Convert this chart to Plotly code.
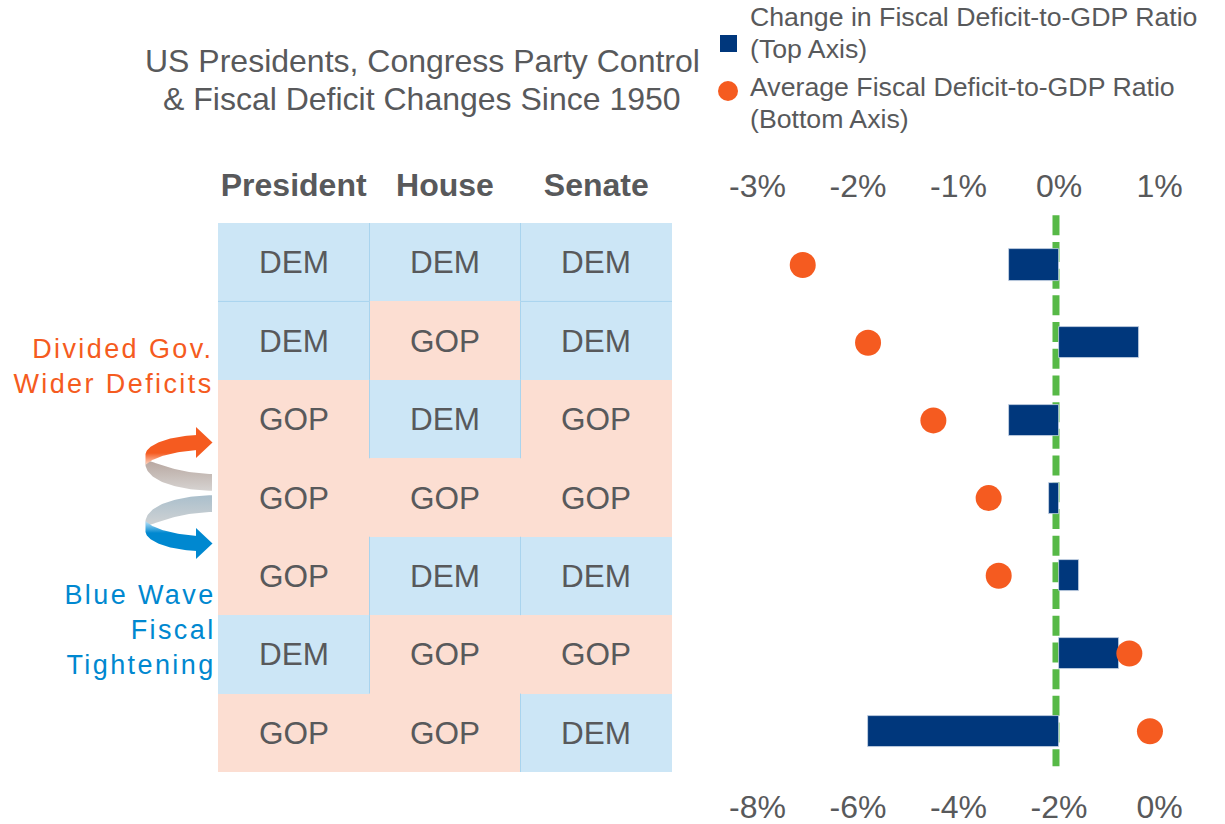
import numpy as np
import plotly.graph_objects as go

W, H = 1225, 824
FONT = "Liberation Sans, Arial, sans-serif"
GREY = "#58595B"
ORANGE = "#F55B20"
BLUE_TXT = "#0088D0"
NAVY = "#00377C"
GREEN = "#57B947"

columns = ["President", "House", "Senate"]
president = ["DEM", "DEM", "GOP", "GOP", "GOP", "DEM", "GOP"]
house = ["DEM", "GOP", "DEM", "GOP", "DEM", "GOP", "GOP"]
senate = ["DEM", "DEM", "GOP", "GOP", "DEM", "GOP", "DEM"]
deficit_change = [-0.5, 0.8, -0.5, -0.1, 0.2, 0.6, -1.9]
average_deficit = [-7.1, -5.8, -4.5, -3.4, -3.2, -0.6, -0.19]
top_ticks = [-3, -2, -1, 0, 1]
bottom_ticks = [-8, -6, -4, -2, 0]


def fx(px):
    return px / W


def fy(px):
    return 1 - px / H


rows = list(range(7))
parties = [president, house, senate]
grid = [[parties[c][r] for c in range(3)] for r in rows]
z = [[1 if v == "DEM" else 0 for v in row] for row in grid]

fig = go.Figure()

# party-control table
fig.add_trace(go.Heatmap(
    x=columns, y=rows, z=z, text=grid, texttemplate="%{text}",
    textfont=dict(family=FONT, size=31.5, color=GREY),
    colorscale=[[0, "#FCDED2"], [1, "#CCE6F6"]], zmin=0, zmax=1,
    showscale=False, hoverinfo="skip", xaxis="x", yaxis="y",
))

# deficit change bars (top axis) and average ratio dots (bottom axis)
fig.add_trace(go.Bar(
    y=rows, x=deficit_change, orientation="h", width=0.4,
    marker=dict(color=NAVY, line=dict(color="#C9D6E6", width=0.8)),
    xaxis="x2", yaxis="y2", showlegend=False, name="Change in Fiscal Deficit-to-GDP Ratio",
))
fig.add_trace(go.Scatter(
    y=rows, x=average_deficit, mode="markers",
    marker=dict(color=ORANGE, size=26),
    xaxis="x3", yaxis="y2", showlegend=False, name="Average Fiscal Deficit-to-GDP Ratio",
))


# decorative curved arrows, drawn on a hidden pixel-sized overlay axis
def bez(p0, p1, p2, p3, n=40):
    t = np.linspace(0, 1, n)[:, None]
    p0, p1, p2, p3 = map(np.array, (p0, p1, p2, p3))
    return (1 - t) ** 3 * p0 + 3 * (1 - t) ** 2 * t * p1 + 3 * (1 - t) * t ** 2 * p2 + t ** 3 * p3


def ribbon(top, bottom, flip):
    pts = np.vstack([top, bottom[::-1], top[:1]])
    y = 986 - pts[:, 1] if flip else pts[:, 1]
    return pts[:, 0], y


def add_poly(x, y, colors=None, solid=None):
    kw = dict(x=x, y=y, mode="lines", line=dict(width=0), fill="toself", showlegend=False,
              hoverinfo="skip", xaxis="x4", yaxis="y4")
    if solid:
        kw["fillcolor"] = solid
    else:
        kw["fillgradient"] = dict(type="vertical", colorscale=colors, start=float(np.min(y)), stop=float(np.max(y)))
    fig.add_trace(go.Scatter(**kw))


def arrow(main, fade, back_a, back_b, flip):
    back_top = bez((146, 460), (155, 462), (175, 473), (212, 474))
    back_bot = bez((145.5, 465), (147, 480), (175, 490), (212, 490.7))
    bx, by = ribbon(back_top, back_bot, flip)
    add_poly(bx, by, colors=[[0, back_a if not flip else back_b], [1, back_b if not flip else back_a]])
    body_top = bez((145.5, 454), (147, 444), (170, 436), (197, 435))
    body_bot = bez((145.5, 465), (152, 458), (170, 452), (197, 450))
    x, y = ribbon(body_top, body_bot, flip)
    if flip:
        cs = [[0, fade], [0.4, main], [1, main]]
    else:
        cs = [[0, main], [0.6, main], [1, fade]]
    add_poly(x, y, colors=cs)
    hy = np.array([427.0, 458.0, 442.5, 427.0])
    hy = 986 - hy if flip else hy
    add_poly(np.array([196.0, 196.0, 212.5, 196.0]), hy, solid=main)


arrow(ORANGE, "#FCD9C8", "#B7A69F", "#D6D3D1", False)
arrow(BLUE_TXT, "#BFE4F8", "#D1D3D4", "#AABFCC", True)

shapes = []
# light rules between table cells
xe = [218, 369.5, 520.5, 672]
ye = [223 + 78.43 * i for i in range(8)]
for r in rows:
    for c in (0, 1):
        if "DEM" in (grid[r][c], grid[r][c + 1]):
            shapes.append(dict(type="line", xref="paper", yref="paper", x0=fx(xe[c + 1]), x1=fx(xe[c + 1]),
                               y0=fy(ye[r]), y1=fy(ye[r + 1]), line=dict(color="#A9D4EE", width=1)))
for r in rows[:-1]:
    for c in range(3):
        if grid[r][c] == "DEM" and grid[r + 1][c] == "DEM":
            shapes.append(dict(type="line", xref="paper", yref="paper", x0=fx(xe[c]), x1=fx(xe[c + 1]),
                               y0=fy(ye[r + 1]), y1=fy(ye[r + 1]), line=dict(color="#A9D4EE", width=1)))
# green reference line
shapes.append(dict(type="line", xref="x2", yref="y2", x0=-0.03, x1=-0.03, y0=-0.64, y1=6.45, layer="below",
                   line=dict(color=GREEN, width=7, dash="20px,6.7px")))
# legend keys
shapes.append(dict(type="rect", xref="paper", yref="paper", x0=fx(720), x1=fx(737), y0=fy(35), y1=fy(52),
                   fillcolor=NAVY, line=dict(width=0)))
shapes.append(dict(type="circle", xref="paper", yref="paper", x0=fx(718), x1=fx(738), y0=fy(81), y1=fy(101),
                   fillcolor=ORANGE, line=dict(width=0)))


def note(text, x, y, size, color, anchor="center", align="center"):
    return dict(text=text, x=fx(x), y=fy(y), xref="paper", yref="paper", xanchor=anchor, yanchor="middle",
                align=align, showarrow=False, font=dict(family=FONT, size=size, color=color))


annotations = [
    note("US Presidents, Congress Party Control", 422, 61, 32, GREY),
    note("& Fiscal Deficit Changes Since 1950", 422, 99.5, 32, GREY),
    note("Change in Fiscal Deficit-to-GDP Ratio", 748, 17, 26.7, GREY, "left", "left"),
    note("(Top Axis)", 748, 49, 26.7, GREY, "left", "left"),
    note("Average Fiscal Deficit-to-GDP Ratio", 748, 87, 26.7, GREY, "left", "left"),
    note("(Bottom Axis)", 748, 119, 26.7, GREY, "left", "left"),
    note("Divided Gov.<br>Wider Deficits", 216, 366, 27, ORANGE, "right", "right"),
    note("Blue Wave<br>Fiscal<br>Tightening", 218, 629.5, 27, BLUE_TXT, "right", "right"),
]

PX_TOP = 100.5
ZERO_TOP = 1059
PX_BOT = 50.25
ZERO_BOT = 1159.5
L, R = 715, 1205
T, B = 204, 785

hidden = dict(visible=False, fixedrange=True, automargin=False)
tick_font = dict(family=FONT, size=32, color=GREY)
fig.update_layout(
    width=W, height=H, margin=dict(l=0, r=0, t=0, b=0), autosize=False,
    paper_bgcolor="white", plot_bgcolor="rgba(0,0,0,0)", showlegend=False, bargap=0,
    shapes=shapes, annotations=annotations,
    xaxis=dict(domain=[fx(218), fx(672)], anchor="y", side="top", type="category", automargin=False,
               tickmode="array", tickvals=columns, ticktext=[f"<b>{c}</b>" for c in columns],
               tickfont=dict(family=FONT, size=32, color=GREY), ticks="outside", ticklen=13,
               tickcolor="rgba(0,0,0,0)", showline=False, showgrid=False, zeroline=False),
    yaxis=dict(domain=[fy(772), fy(223)], range=[6.5, -0.5], visible=False, automargin=False),
    xaxis2=dict(domain=[fx(L), fx(R)], range=[(L - ZERO_TOP) / PX_TOP, (R - ZERO_TOP) / PX_TOP], anchor="y2",
                side="top", tickmode="array", tickvals=top_ticks, ticktext=[f"{t}%" for t in top_ticks],
                tickfont=tick_font, showgrid=False, zeroline=False, showline=False, ticks="", automargin=False),
    xaxis3=dict(domain=[fx(L), fx(R)], range=[(L - ZERO_BOT) / PX_BOT, (R - ZERO_BOT) / PX_BOT], anchor="y2",
                side="bottom", tickmode="array", tickvals=bottom_ticks, ticktext=[f"{t}%" for t in bottom_ticks],
                tickfont=tick_font, showgrid=False, zeroline=False, showline=False, ticks="", automargin=False),
    yaxis2=dict(domain=[fy(B), fy(T)], range=[(B - 265) / 77.7, (T - 265) / 77.7], anchor="x2",
                visible=False, automargin=False),
    xaxis4=dict(domain=[0, 1], range=[0, W], anchor="y4", **hidden),
    yaxis4=dict(domain=[0, 1], range=[H, 0], anchor="x4", **hidden),
)

post = """
document.body.style.margin = '0';
document.querySelectorAll('.annotation-text').forEach(function (t) {
  if (/Divided|Blue Wave/.test(t.textContent)) { t.style.letterSpacing = '2.4px'; }
});
"""
fig.write_html("out.html", post_script=post, config=dict(displayModeBar=False))
